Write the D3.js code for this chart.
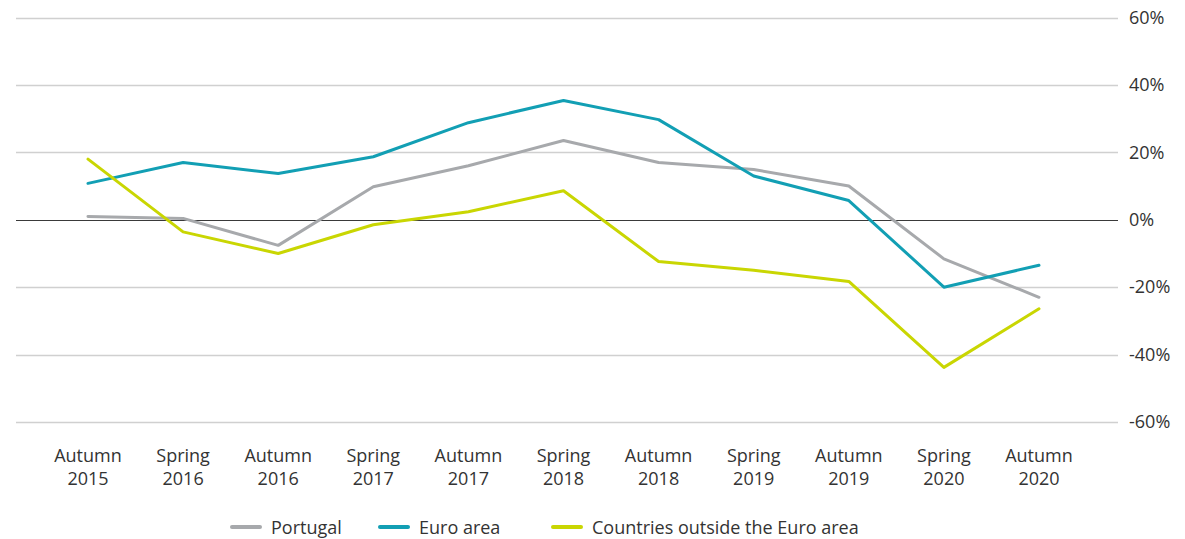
<!DOCTYPE html>
<html>
<head>
<meta charset="utf-8">
<script src="https://d3js.org/d3.v7.min.js"></script>
<style>
  body { margin: 0; background: #fff; }
  text { font-family: "Open Sans", "Noto Sans", sans-serif; fill: #333; }
</style>
</head>
<body>
<script>
var width = 1185, height = 539;

var periods = ["Autumn 2015", "Spring 2016", "Autumn 2016", "Spring 2017", "Autumn 2017", "Spring 2018",
               "Autumn 2018", "Spring 2019", "Autumn 2019", "Spring 2020", "Autumn 2020"];
var portugal = [1, 0.4, -7.6, 9.8, 16, 23.5, 17, 14.9, 10, -11.6, -23];
var euroArea = [10.8, 17, 13.7, 18.7, 28.8, 35.4, 29.7, 13, 5.7, -20, -13.5];
var outsideEuro = [18, -3.6, -10, -1.5, 2.4, 8.6, -12.4, -15, -18.3, -43.8, -26.4];
var yTicks = [60, 40, 20, 0, -20, -40, -60];

var series = [
  { name: "Portugal", values: portugal, color: "#a7a9ac" },
  { name: "Euro area", values: euroArea, color: "#129fb4" },
  { name: "Countries outside the Euro area", values: outsideEuro, color: "#c9d602" }
];

var plotLeft = 16, plotRight = 1118;
var fontSize = "18px";

var svg = d3.select("body").append("svg")
    .attr("width", width)
    .attr("height", height);

var x = d3.scalePoint()
    .domain(periods)
    .range([88, 1039]);

var y = d3.scaleLinear()
    .domain([-60, 60])
    .range([422, 17.5]);

// gridlines
svg.append("g").selectAll("line")
    .data(yTicks)
    .enter().append("line")
    .attr("x1", plotLeft)
    .attr("x2", plotRight)
    .attr("y1", function(d) { return Math.round(y(d)) + 0.5; })
    .attr("y2", function(d) { return Math.round(y(d)) + 0.5; })
    .attr("stroke", function(d) { return d === 0 ? "#3a3a3a" : "#d0d0d0"; })
    .attr("stroke-width", function(d) { return d === 0 ? 1.2 : 1.5; });

// right axis labels
var yAxis = d3.axisRight(y)
    .tickValues(yTicks)
    .tickSize(0)
    .tickPadding(0)
    .tickFormat(function(d) { return d + "%"; });

svg.append("g")
    .attr("transform", "translate(1129,0)")
    .call(yAxis)
    .call(function(g) { g.select(".domain").remove(); })
    .selectAll("text")
    .style("font-size", fontSize)
    .style("font-family", "'Open Sans', 'Noto Sans', sans-serif")
    .attr("fill", "#333");

// x labels, two lines
var xl = svg.append("g").selectAll("text")
    .data(periods)
    .enter().append("text")
    .attr("x", function(d) { return x(d); })
    .attr("y", 462)
    .attr("text-anchor", "middle")
    .style("font-size", fontSize);

xl.append("tspan")
    .attr("x", function(d) { return x(d); })
    .text(function(d) { return d.split(" ")[0]; });
xl.append("tspan")
    .attr("x", function(d) { return x(d); })
    .attr("dy", 23)
    .text(function(d) { return d.split(" ")[1]; });

// lines
var line = d3.line()
    .x(function(d, i) { return x(periods[i]); })
    .y(function(d) { return y(d); });

svg.append("g").selectAll("path")
    .data(series)
    .enter().append("path")
    .attr("d", function(d) { return line(d.values); })
    .attr("fill", "none")
    .attr("stroke", function(d) { return d.color; })
    .attr("stroke-width", 3)
    .attr("stroke-linejoin", "round")
    .attr("stroke-linecap", "round");

// legend
var legendX = [232, 380, 553];
var legend = svg.append("g").selectAll("g")
    .data(series)
    .enter().append("g")
    .attr("transform", function(d, i) { return "translate(" + legendX[i] + ",527)"; });

legend.append("line")
    .attr("x1", 0).attr("x2", 28)
    .attr("y1", 0).attr("y2", 0)
    .attr("stroke", function(d) { return d.color; })
    .attr("stroke-width", 4)
    .attr("stroke-linecap", "round");

legend.append("text")
    .attr("x", 39)
    .attr("y", 6.5)
    .style("font-size", fontSize)
    .text(function(d) { return d.name; });
</script>
</body>
</html>
